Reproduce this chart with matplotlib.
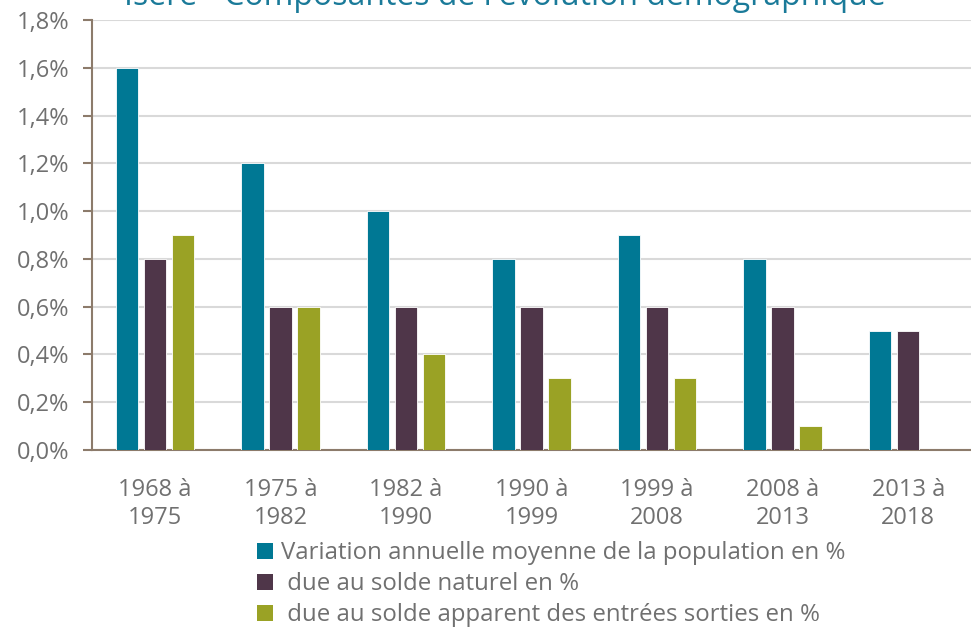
import numpy as np
import matplotlib.pyplot as plt
from matplotlib.patches import Patch

plt.rcParams['font.family'] = ['Open Sans', 'DejaVu Sans']

# données
periodes = ["1968 à\n1975", "1975 à\n1982", "1982 à\n1990", "1990 à\n1999",
            "1999 à\n2008", "2008 à\n2013", "2013 à\n2018"]
variation = [1.6, 1.2, 1.0, 0.8, 0.9, 0.8, 0.5]
solde_naturel = [0.8, 0.6, 0.6, 0.6, 0.6, 0.6, 0.5]
solde_apparent = [0.9, 0.6, 0.4, 0.3, 0.3, 0.1, 0.0]

series = [
    ("Variation annuelle moyenne de la population en %", variation, "#007894"),
    (" due au solde naturel en %", solde_naturel, "#4f3649"),
    (" due au solde apparent des entrées sorties en %", solde_apparent, "#9aa225"),
]

fig = plt.figure(figsize=(9.71, 6.27), dpi=100)
ax = fig.add_axes([92 / 971, 1 - 450 / 627, 879 / 971, 430 / 627])

x = np.arange(len(periodes))
largeur = 0.178
pas = 0.223
for i, (nom, vals, couleur) in enumerate(series):
    ax.bar(x + (i - 1) * pas, vals, width=largeur, color=couleur,
           edgecolor="white", linewidth=0.6, zorder=3)

ax.set_xlim(-0.5, len(periodes) - 0.5)
ax.set_ylim(0, 1.8)
yt = np.arange(0, 1.81, 0.2)
ax.set_yticks(yt)
ax.set_yticklabels([f"{v:.1f}%".replace(".", ",") for v in yt])
ax.set_xticks(x)
ax.set_xticklabels(periodes, linespacing=1.25)
ax.grid(axis="y", color="#d9d9d9", linewidth=1.5, zorder=0)

for s in ["top", "right"]:
    ax.spines[s].set_visible(False)
for s in ["left", "bottom"]:
    ax.spines[s].set_color("#8c7b6b")
    ax.spines[s].set_linewidth(1.5)

ax.tick_params(axis="y", length=6.5, width=1.5, color="#8c7b6b",
               labelsize=17, labelcolor="#707070", pad=10)
ax.tick_params(axis="x", length=0, labelsize=17, labelcolor="#707070", pad=20)

fig.text(0.52, 1 - 5 / 627, "Isère - Composantes de l'évolution démographique",
         ha="center", va="baseline", fontsize=23, color="#1a7a99")

handles = [Patch(facecolor=c, label=n) for n, v, c in series]
fig.legend(handles=handles, loc="upper left", bbox_to_anchor=(257 / 971, 1 - 541 / 627),
           frameon=False, fontsize=17.3, labelcolor="#707070",
           handlelength=0.65, handleheight=0.65, handletextpad=0.35,
           labelspacing=0.3, borderpad=0, borderaxespad=0)

fig.savefig("out.png", dpi=100)
